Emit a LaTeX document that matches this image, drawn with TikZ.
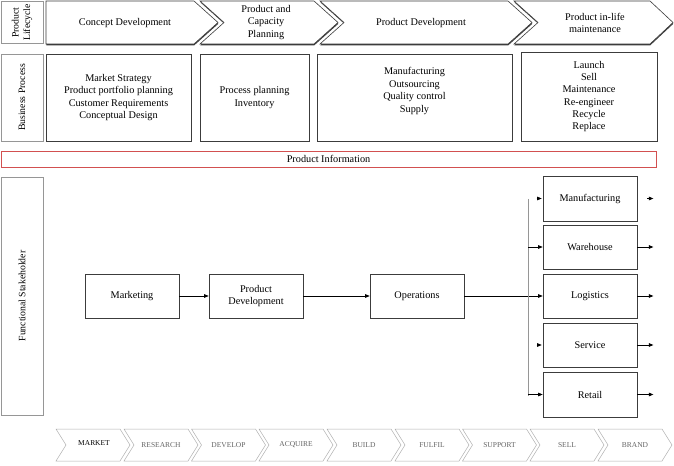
\documentclass[tikz,border=0pt]{standalone}
\usepackage{fontspec}
\setmainfont{Liberation Serif}
\usetikzlibrary{arrows.meta,shadows}
\definecolor{plmdark}{RGB}{60,60,60}
\definecolor{plmgray}{RGB}{150,150,150}
\definecolor{plmlight}{RGB}{175,175,175}
\definecolor{plmred}{RGB}{210,80,80}

\begin{document}
\begin{tikzpicture}[x=1bp,y=-1bp,
  txt/.style={font=\fontsize{10.3}{12.4}\selectfont, align=center, inner sep=0pt},
  stage/.style={draw=plmdark, fill=white, line width=0.6bp,
    drop shadow={shadow xshift=0.3bp, shadow yshift=-1.3bp, opacity=1, fill=plmdark}},
  rowlabel/.style={draw=plmgray, rotate=90, inner sep=0pt, align=center,
    font=\fontsize{9.8}{11.5}\selectfont},
  procbox/.style={draw=plmdark, line width=0.7bp, minimum height=87bp, txt},
  stakebox/.style={draw=plmdark, line width=0.7bp, minimum width=94bp, minimum height=44bp, txt},
  chain/.style={draw=plmlight, line width=0.5bp},
  chainlbl/.style={font=\fontsize{7.5}{9}\selectfont, text=plmdark!80},
  flow/.style={-{Triangle[length=4.5bp,width=3.6bp]}, line width=0.6bp, draw=black}]
  \useasboundingbox (0,0) rectangle (674,466);

  % Row labels
  \node[rowlabel, minimum width=42bp, minimum height=42bp] (lifelbl) at (22,22.5) {Product\\Lifecycle};
  \node[rowlabel, minimum width=87bp, minimum height=42bp] (proclbl) at (22,97.5) {Business Process};
  \node[rowlabel, minimum width=238bp, minimum height=42bp] (stakelbl) at (22,296) {Functional Stakeholder};

  % Product lifecycle stages
  \draw[stage] (46,1) -- (194,1) -- (218,22.5) -- (194,44) -- (46,44) -- cycle;
  \draw[stage] (200,1) -- (314,1) -- (338,22.5) -- (314,44) -- (200,44) -- (224,22.5) -- cycle;
  \draw[stage] (320,1) -- (508,1) -- (532,22.5) -- (508,44) -- (320,44) -- (344,22.5) -- cycle;
  \draw[stage] (514,1) -- (650,1) -- (673,22.5) -- (650,44) -- (514,44) -- (538,22.5) -- cycle;
  \node[txt] (st1) at (125,23) {Concept Development};
  \node[txt] (st2) at (266,22.5) {Product and\\Capacity\\Planning};
  \node[txt] (st3) at (421,23) {Product Development};
  \node[txt] (st4) at (595,23) {Product in-life\\maintenance};

  % Business processes
  \node[procbox, minimum width=145bp] (bp1) at (118.5,97.5) {Market Strategy\\Product portfolio planning\\Customer Requirements\\Conceptual Design};
  \node[procbox, minimum width=109bp] (bp2) at (254.5,97.5) {Process planning\\Inventory};
  \node[procbox, minimum width=195bp] (bp3) at (414.5,97.5) {};
  \node[txt] (bp3txt) at (414.5,91) {Manufacturing\\Outsourcing\\Quality control\\Supply};
  \node[procbox, minimum width=136bp, minimum height=89bp] (bp4) at (589,96.5) {Launch\\Sell\\Maintenance\\Re-engineer\\Recycle\\Replace};

  % Product information
  \node[draw=plmred, line width=0.7bp, minimum width=655bp, minimum height=16bp, txt] (pinfo) at (328.5,159) {Product Information};

  % Functional stakeholders
  \node[stakebox] (mkt) at (132,296) {Marketing};
  \node[stakebox] (pdev) at (256,296) {Product\\Development};
  \node[stakebox] (ops) at (417,296) {Operations};
  \node[stakebox, minimum height=45bp] (manu) at (590,198.5) {Manufacturing};
  \node[stakebox] (ware) at (590,247) {Warehouse};
  \node[stakebox] (logi) at (590,296) {Logistics};
  \node[stakebox] (serv) at (590,345) {Service};
  \node[stakebox, minimum height=45bp] (retail) at (590,394.5) {Retail};

  \draw[flow] (mkt) -- (pdev);
  \draw[flow] (pdev) -- (ops);
  \draw[flow] (ops) -- (logi);
  \coordinate (bustop) at (528,199);
  \coordinate (busbot) at (528,396);
  \draw[plmgray, line width=0.6bp] (bustop) -- (busbot);
  \draw[flow] ([xshift=-6bp]manu.west) -- ([xshift=-1bp]manu.west);
  \draw[flow] (bustop |- ware.west) -- (ware.west);
  \draw[flow] ([xshift=-6bp]serv.west) -- ([xshift=-1bp]serv.west);
  \draw[flow] (bustop |- retail.west) -- (retail.west);
  \draw[flow] ([xshift=10bp]manu.east) -- ([xshift=16bp]manu.east);
  \draw[flow] (ware.east) -- ++(16,0);
  \draw[flow] (logi.east) -- ++(16,0);
  \draw[flow] (serv.east) -- ++(16,0);
  \draw[flow] (retail.east) -- ++(16,0);

  % Value chain
  \draw[chain] (56,429) -- ++(64,0) -- ++(10,16) -- ++(-10,16) -- ++(-64,0) -- ++(10,-16) -- cycle;
  \draw[chain] (124,429) -- ++(64,0) -- ++(10,16) -- ++(-10,16) -- ++(-64,0) -- ++(10,-16) -- cycle;
  \draw[chain] (191.5,429) -- ++(64,0) -- ++(10,16) -- ++(-10,16) -- ++(-64,0) -- ++(10,-16) -- cycle;
  \draw[chain] (259,429) -- ++(64,0) -- ++(10,16) -- ++(-10,16) -- ++(-64,0) -- ++(10,-16) -- cycle;
  \draw[chain] (327,429) -- ++(64,0) -- ++(10,16) -- ++(-10,16) -- ++(-64,0) -- ++(10,-16) -- cycle;
  \draw[chain] (395,429) -- ++(64,0) -- ++(10,16) -- ++(-10,16) -- ++(-64,0) -- ++(10,-16) -- cycle;
  \draw[chain] (462.5,429) -- ++(64,0) -- ++(10,16) -- ++(-10,16) -- ++(-64,0) -- ++(10,-16) -- cycle;
  \draw[chain] (530,429) -- ++(64,0) -- ++(10,16) -- ++(-10,16) -- ++(-64,0) -- ++(10,-16) -- cycle;
  \draw[chain] (598,429) -- ++(64,0) -- ++(10,16) -- ++(-10,16) -- ++(-64,0) -- ++(10,-16) -- cycle;
  \node[chainlbl, text=black] (vc1) at (94,443) {MARKET};
  \node[chainlbl] (vc2) at (161,445) {RESEARCH};
  \node[chainlbl] (vc3) at (228.5,445) {DEVELOP};
  \node[chainlbl] (vc4) at (296,445) {ACQUIRE};
  \node[chainlbl] (vc5) at (364,445) {BUILD};
  \node[chainlbl] (vc6) at (432,445) {FULFIL};
  \node[chainlbl] (vc7) at (499.5,445) {SUPPORT};
  \node[chainlbl] (vc8) at (567,445) {SELL};
  \node[chainlbl] (vc9) at (635,445) {BRAND};
\end{tikzpicture}
\end{document}
